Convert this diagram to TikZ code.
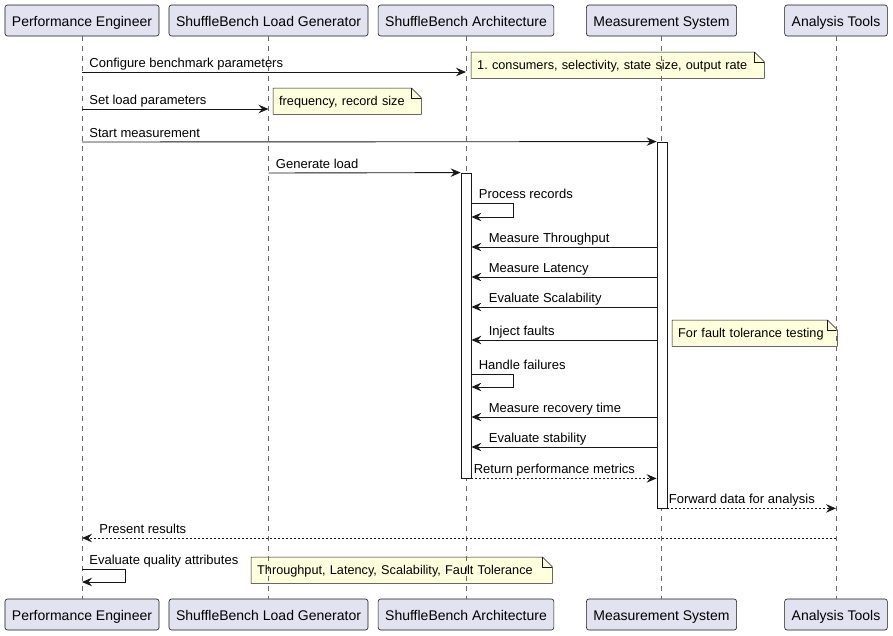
\documentclass[tikz,border=0pt]{standalone}
\usepackage{fontspec}
\setmainfont{Liberation Sans}
\usetikzlibrary{positioning, calc, backgrounds}
\usetikzlibrary{arrows, arrows.meta}
\definecolor{partfill}{RGB}{226,226,240}
\definecolor{notefill}{RGB}{254,255,221}
\definecolor{edge}{RGB}{24,24,24}
\frenchspacing
\tikzset{
  >={Stealth[length=10pt, width=8.5pt, inset=3.5pt]},
  part/.style={draw=edge, fill=partfill, rounded corners=2.5pt, line width=0.6pt,
    font=\fontsize{14}{16}\selectfont, minimum height=31pt, inner xsep=7pt,
    text height=11pt, text depth=0pt},
  life/.style={draw=edge!65, line width=0.5pt, dash pattern=on 5pt off 5pt},
  act/.style={draw=edge, fill=white, line width=0.8pt, minimum width=10pt, inner sep=0},
  msg/.style={->, draw=edge, line width=0.9pt},
  ret/.style={msg, dash pattern=on 2pt off 2pt},
  lbl/.style={font=\fontsize{13}{15}\selectfont, anchor=base west, inner sep=0, yshift=5pt},
  note/.style={font=\fontsize{12.7}{15}\selectfont, anchor=north west, align=left,
    text width=#1, inner xsep=6pt, inner ysep=0, minimum height=26pt,
    text height=9.5pt, text depth=0pt}
}

\begin{document}
\begin{tikzpicture}[x=1pt, y=-1pt]
  \useasboundingbox (0,0) rectangle (893,635);
  % participants, top and bottom
  \node[part] (pe) at (82,20.5) {Performance Engineer};
  \node[part] (lg) at (268.5,20.5) {ShuffleBench Load Generator};
  \node[part] (arch) at (466,20.5) {ShuffleBench Architecture};
  \node[part] (ms) at (661.5,20.5) {Measurement System};
  \node[part] (at) at (836,20.5) {Analysis Tools};
  \node[part] (pe-b) at (82,614.5) {Performance Engineer};
  \node[part] (lg-b) at (268.5,614.5) {ShuffleBench Load Generator};
  \node[part] (arch-b) at (466,614.5) {ShuffleBench Architecture};
  \node[part] (ms-b) at (661.5,614.5) {Measurement System};
  \node[part] (at-b) at (836,614.5) {Analysis Tools};
  \foreach \p in {pe, lg, arch, ms, at}
    \draw[life] (\p.south) -- (\p-b.north);

  % activations
  \node[act, minimum height=366pt] (msact) at (662,325) {};
  \node[act, minimum height=305pt] (archact) at (466,325.5) {};

  % notes
  \node[note=281pt] (n1) at (471,52) {1. consumers, selectivity, state size, output rate};
  \node[note=136pt] (n2) at (273,88) {frequency, record size};
  \node[note=153pt] (n3) at (672,320) {For fault tolerance testing};
  \node[note=289pt] (n4) at (251,557) {Throughput, Latency, Scalability, Fault Tolerance};
  \begin{scope}[on background layer]
    \foreach \n in {n1, n2, n3, n4} {
      \filldraw[fill=notefill, draw=edge, line width=0.5pt] (\n.north west) -- ([xshift=-10pt]\n.north east)
        -- ([yshift=-10pt]\n.north east) -- (\n.south east) -- (\n.south west) -- cycle;
      \draw[edge, line width=0.5pt] ([xshift=-10pt]\n.north east) |- ([yshift=-10pt]\n.north east);
    }
  \end{scope}

  % messages
  \draw[msg] (pe |- 0,72) node[lbl, xshift=7pt] {Configure benchmark parameters} -- (arch |- 0,72);
  \draw[msg] (pe |- 0,109) node[lbl, xshift=7pt] {Set load parameters} -- (lg |- 0,109);
  \draw[msg] (pe |- 0,142) node[lbl, xshift=7pt] {Start measurement} -- (msact.north west);
  \draw[msg] (lg |- 0,173) node[lbl, xshift=7pt] {Generate load} -- (archact.north west);
  \draw[msg] (archact.east |- 0,203) node[lbl, xshift=7pt] {Process records} -- ++(42,0) |- (archact.east |- 0,217);
  \draw[msg] (msact.west |- 0,247) -- (archact.east |- 0,247) node[lbl, xshift=17pt] {Measure Throughput};
  \draw[msg] (msact.west |- 0,277) -- (archact.east |- 0,277) node[lbl, xshift=17pt] {Measure Latency};
  \draw[msg] (msact.west |- 0,307) -- (archact.east |- 0,307) node[lbl, xshift=17pt] {Evaluate Scalability};
  \draw[msg] (msact.west |- 0,340) -- (archact.east |- 0,340) node[lbl, xshift=17pt] {Inject faults};
  \draw[msg] (archact.east |- 0,374) node[lbl, xshift=7pt] {Handle failures} -- ++(42,0) |- (archact.east |- 0,387);
  \draw[msg] (msact.west |- 0,417) -- (archact.east |- 0,417) node[lbl, xshift=17pt] {Measure recovery time};
  \draw[msg] (msact.west |- 0,447) -- (archact.east |- 0,447) node[lbl, xshift=17pt] {Evaluate stability};
  \draw[ret] (archact.south east) node[lbl, xshift=2pt] {Return performance metrics} -- (msact.west |- archact.south);
  \draw[ret] (msact.south east) node[lbl, xshift=1pt] {Forward data for analysis} -- (at |- msact.south);
  \draw[ret] (at |- 0,538) -- (pe |- 0,538) node[lbl, xshift=17pt] {Present results};
  \draw[msg] (pe |- 0,569) node[lbl, xshift=7pt] {Evaluate quality attributes} -- ++(43,0) |- (pe |- 0,582);
\end{tikzpicture}
\end{document}
